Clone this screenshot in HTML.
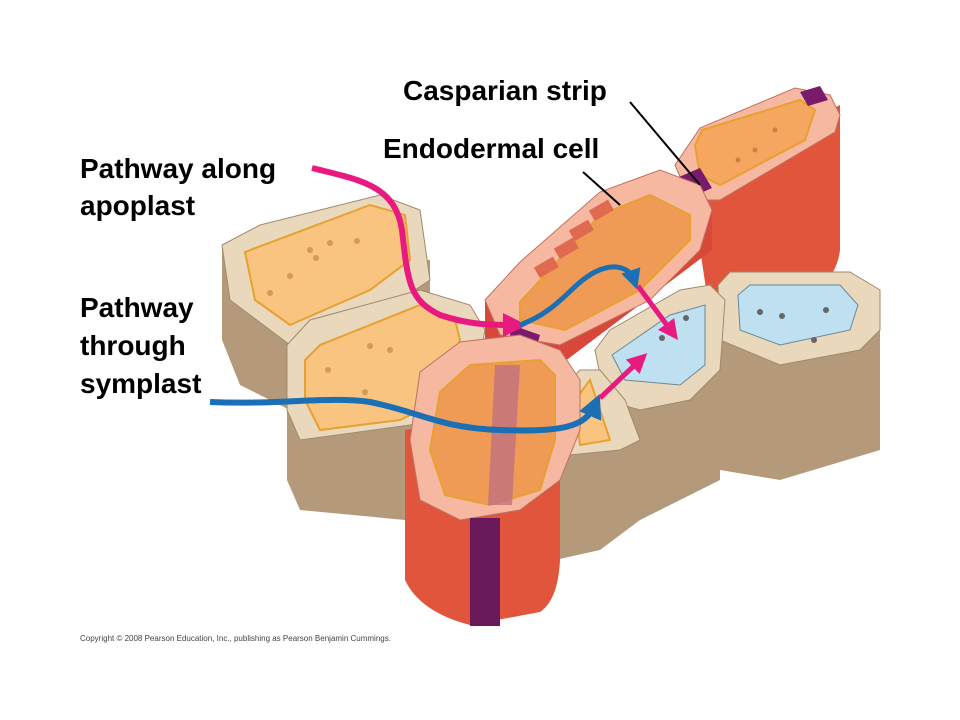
<!DOCTYPE html>
<html><head><style>
body{margin:0;background:#fff;}
svg{display:block;}
text{font-family:"Liberation Sans",sans-serif;font-weight:bold;}
</style></head><body>
<svg width="960" height="720" viewBox="0 0 960 720">
<defs>
<marker id="ap" markerWidth="4" markerHeight="4" refX="2" refY="2" orient="auto" markerUnits="strokeWidth"><path d="M0,0 L4,2 L0,4 Z" fill="#e8197f"/></marker>
<marker id="ab" markerWidth="4" markerHeight="4" refX="2" refY="2" orient="auto" markerUnits="strokeWidth"><path d="M0,0 L4,2 L0,4 Z" fill="#1a6fb5"/></marker>
</defs>
<!-- top right endodermal -->
<path d="M690,180 L840,105 L840,250 Q835,290 790,300 L712,330 Z" fill="#e0553c"/>
<polygon points="675,165 700,128 795,88 830,95 840,115 835,132 720,200 690,200" fill="#f6b8a0" stroke="#c07060"/>
<polygon points="695,145 702,130 800,100 815,110 805,140 720,185 700,175" fill="#f5a760" stroke="#e8a030" stroke-width="2"/>
<polygon points="672,180 700,168 712,188 685,200" fill="#7a1a6a"/>
<polygon points="800,92 820,86 828,100 808,106" fill="#7a1a6a"/>
<circle cx="738" cy="160" r="2.5" fill="#d08040"/><circle cx="755" cy="150" r="2.5" fill="#d08040"/><circle cx="775" cy="130" r="2.5" fill="#d08040"/>
<!-- right blue cell -->
<polygon points="720,285 720,470 780,480 880,450 880,290" fill="#b49a7a"/>
<polygon points="718,285 730,272 850,272 880,290 880,330 860,350 780,365 720,340" fill="#ead8bc" stroke="#a08a6a"/>
<polygon points="738,295 750,285 840,285 858,305 850,330 780,345 740,330" fill="#bfe0f0" stroke="#6a8898"/>
<circle cx="760" cy="312" r="3" fill="#666"/><circle cx="782" cy="316" r="3" fill="#666"/><circle cx="826" cy="310" r="3" fill="#666"/><circle cx="814" cy="340" r="3" fill="#666"/>
<!-- middle endodermal -->
<path d="M485,300 L485,350 L560,365 L712,250 L712,210 Z" fill="#d8483a"/>
<polygon points="485,300 520,262 600,192 660,170 700,185 712,210 700,250 650,300 560,345 500,335" fill="#f6b8a0" stroke="#c07060"/>
<polygon points="520,302 600,215 650,195 690,215 690,240 640,290 565,330 520,320" fill="#ef9a55" stroke="#e8a030" stroke-width="2"/>
<rect x="590" y="205" width="22" height="12" fill="#e06a50" transform="rotate(-30 600 210)"/>
<rect x="570" y="225" width="22" height="12" fill="#e06a50" transform="rotate(-30 580 230)"/>
<rect x="555" y="243" width="22" height="12" fill="#e06a50" transform="rotate(-30 565 248)"/>
<rect x="535" y="262" width="22" height="12" fill="#e06a50" transform="rotate(-30 545 267)"/>
<polygon points="512,325 540,335 530,370 505,360" fill="#7a1a6a"/>
<!-- left top cortex -->
<polygon points="222,245 222,340 240,385 290,410 430,360 430,260" fill="#b49a7a"/>
<polygon points="222,245 260,225 380,195 420,210 430,280 370,320 290,345 230,300" fill="#ead8bc" stroke="#a08a6a"/>
<polygon points="245,252 370,205 405,215 410,260 370,290 290,325 255,300" fill="#f8c480" stroke="#e8a030" stroke-width="2"/>
<circle cx="270" cy="293" r="3" fill="#d89858"/><circle cx="310" cy="250" r="3" fill="#d89858"/><circle cx="330" cy="243" r="3" fill="#d89858"/><circle cx="316" cy="258" r="3" fill="#d89858"/><circle cx="357" cy="241" r="3" fill="#d89858"/><circle cx="290" cy="276" r="3" fill="#d89858"/>
<!-- left second cortex -->
<polygon points="287,355 287,480 300,510 405,520 410,430 480,400 480,330" fill="#b49a7a"/>
<polygon points="287,345 310,320 420,290 470,305 485,330 470,410 410,425 300,440 287,410" fill="#ead8bc" stroke="#a08a6a"/>
<polygon points="305,360 320,345 420,305 455,320 460,340 440,400 400,420 320,430 305,400" fill="#f8c480" stroke="#e8a030" stroke-width="2"/>
<circle cx="370" cy="346" r="3" fill="#d89858"/><circle cx="390" cy="350" r="3" fill="#d89858"/><circle cx="328" cy="370" r="3" fill="#d89858"/><circle cx="365" cy="392" r="3" fill="#d89858"/>
<!-- blue middle cell -->
<polygon points="600,350 600,500 640,520 720,480 720,300" fill="#b49a7a"/>
<polygon points="595,350 610,330 680,290 710,285 725,300 720,370 690,400 640,410 605,400" fill="#ead8bc" stroke="#a08a6a"/>
<polygon points="612,355 670,315 705,305 705,365 680,385 625,380" fill="#bfe0f0" stroke="#6a8898"/>
<circle cx="662" cy="338" r="3" fill="#666"/><circle cx="686" cy="318" r="3" fill="#666"/>
<!-- small cell -->
<polygon points="555,440 555,560 600,550 640,520 640,420" fill="#b49a7a"/>
<polygon points="560,390 580,370 600,370 625,400 640,440 620,450 570,455" fill="#ead8bc" stroke="#a08a6a"/>
<polygon points="575,400 590,380 610,440 580,445" fill="#f8c480" stroke="#e8a030" stroke-width="2"/>
<!-- front endodermal -->
<path d="M405,430 L405,580 Q420,612 470,625 L540,612 Q558,600 560,560 L560,400 Z" fill="#e0553c"/>
<polygon points="410,440 420,372 460,342 520,335 560,350 580,380 580,430 560,480 520,510 460,520 420,500" fill="#f6b8a0" stroke="#c07060"/>
<polygon points="430,450 440,392 470,365 540,360 555,375 555,440 540,490 490,505 445,495" fill="#ef9a55" stroke="#e8a030" stroke-width="2"/>
<polygon points="495,365 520,365 512,505 488,505" fill="#c07080" opacity="0.8"/>
<rect x="470" y="518" width="30" height="108" fill="#6a1a5a"/>
<!-- arrows -->
<path d="M312,168 C360,180 395,185 402,230 C408,285 410,300 440,315 C470,325 490,325 515,325" fill="none" stroke="#e8197f" stroke-width="6" marker-end="url(#ap)"/>
<path d="M520,325 C560,310 570,285 595,272 C615,262 630,268 634,280" fill="none" stroke="#1a6fb5" stroke-width="5" marker-end="url(#ab)"/>
<path d="M638,286 L672,332" fill="none" stroke="#e8197f" stroke-width="5" marker-end="url(#ap)"/>
<path d="M210,402 C280,405 330,396 370,402 C420,412 440,428 500,430 C560,432 585,428 595,405" fill="none" stroke="#1a6fb5" stroke-width="6" marker-end="url(#ab)"/>
<path d="M600,398 L640,360" fill="none" stroke="#e8197f" stroke-width="5" marker-end="url(#ap)"/>
<!-- label lines -->
<line x1="630" y1="102" x2="700" y2="185" stroke="#000" stroke-width="2"/>
<line x1="583" y1="172" x2="620" y2="205" stroke="#000" stroke-width="2"/>
<text x="403" y="100" font-size="28">Casparian strip</text>
<text x="383" y="158" font-size="28">Endodermal cell</text>
<text x="80" y="178" font-size="28">Pathway along</text>
<text x="80" y="215" font-size="28">apoplast</text>
<text x="80" y="317" font-size="28">Pathway</text>
<text x="80" y="355" font-size="28">through</text>
<text x="80" y="393" font-size="28">symplast</text>
<text x="80" y="641" font-size="8" fill="#444" style="font-weight:normal">Copyright © 2008 Pearson Education, Inc., publishing as Pearson Benjamin Cummings.</text>
</svg>
</body></html>
